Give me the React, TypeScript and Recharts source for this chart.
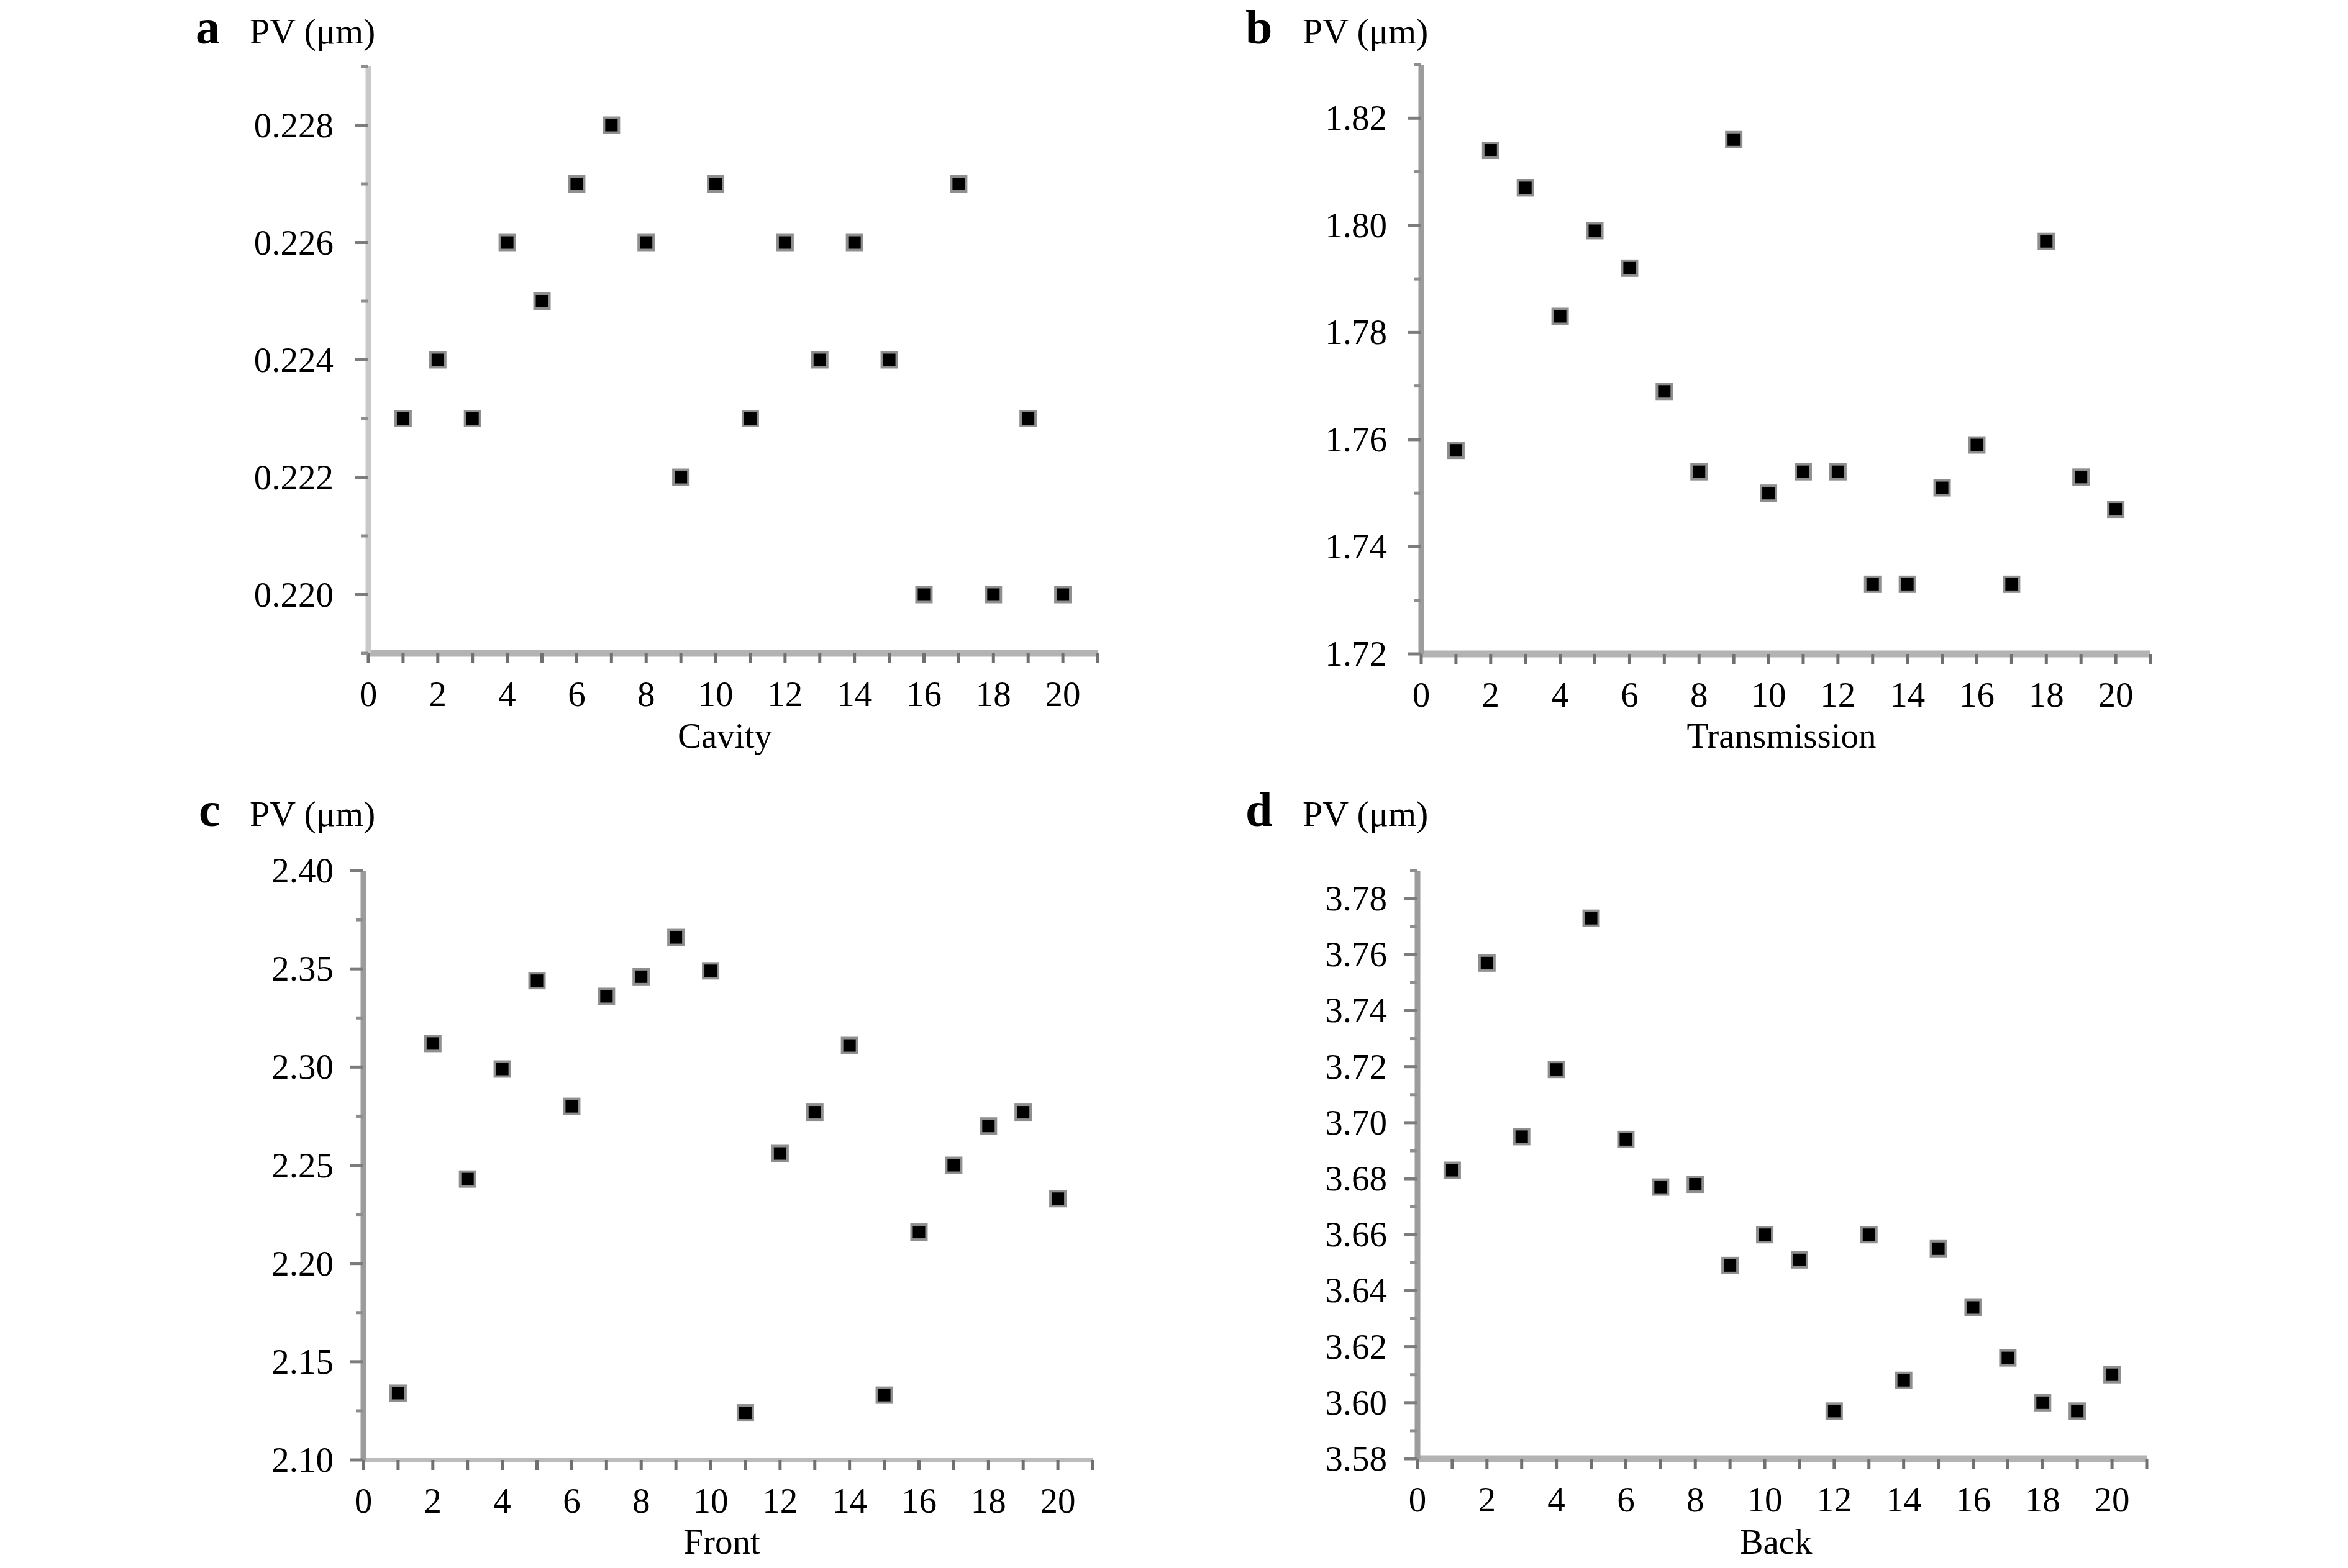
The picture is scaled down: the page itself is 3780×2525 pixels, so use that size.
import React from 'react';
import { ScatterChart, Scatter, XAxis, YAxis } from 'recharts';

// ---------- data ----------
const sampleIndex = [1, 2, 3, 4, 5, 6, 7, 8, 9, 10, 11, 12, 13, 14, 15, 16, 17, 18, 19, 20];

const cavityPV = [0.223, 0.224, 0.223, 0.226, 0.225, 0.227, 0.228, 0.226, 0.222, 0.227, 0.223, 0.226, 0.224, 0.226, 0.224, 0.220, 0.227, 0.220, 0.223, 0.220];
const transmissionPV = [1.758, 1.814, 1.807, 1.783, 1.799, 1.792, 1.769, 1.754, 1.816, 1.750, 1.754, 1.754, 1.733, 1.733, 1.751, 1.759, 1.733, 1.797, 1.753, 1.747];
const frontPV = [2.134, 2.312, 2.243, 2.299, 2.344, 2.280, 2.336, 2.346, 2.366, 2.349, 2.124, 2.256, 2.277, 2.311, 2.133, 2.216, 2.250, 2.270, 2.277, 2.233];
const backPV = [3.683, 3.757, 3.695, 3.719, 3.773, 3.694, 3.677, 3.678, 3.649, 3.660, 3.651, 3.597, 3.660, 3.608, 3.655, 3.634, 3.616, 3.600, 3.597, 3.610];

const xTicks = [0, 1, 2, 3, 4, 5, 6, 7, 8, 9, 10, 11, 12, 13, 14, 15, 16, 17, 18, 19, 20, 21];
const xLabelTicks = [0, 2, 4, 6, 8, 10, 12, 14, 16, 18, 20];
const xDomain = [0, 21];

const cavityDomain = [0.219, 0.229];
const cavityMajor = [0.220, 0.222, 0.224, 0.226, 0.228];
const cavityMinor = [0.219, 0.221, 0.223, 0.225, 0.227, 0.229];

const transmissionDomain = [1.72, 1.83];
const transmissionMajor = [1.72, 1.74, 1.76, 1.78, 1.80, 1.82];
const transmissionMinor = [1.73, 1.75, 1.77, 1.79, 1.81, 1.83];

const frontDomain = [2.10, 2.40];
const frontMajor = [2.10, 2.15, 2.20, 2.25, 2.30, 2.35, 2.40];
const frontMinor = [2.125, 2.175, 2.225, 2.275, 2.325, 2.375];

const backDomain = [3.58, 3.79];
const backMajor = [3.58, 3.60, 3.62, 3.64, 3.66, 3.68, 3.70, 3.72, 3.74, 3.76, 3.78];
const backMinor = [3.59, 3.61, 3.63, 3.65, 3.67, 3.69, 3.71, 3.73, 3.75, 3.77, 3.79];

const panelLetters = ['a', 'b', 'c', 'd'];
const axisTitles = ['Cavity', 'Transmission', 'Front', 'Back'];
const yUnitLabel = 'PV (\u03bcm)';

// ---------- styling / layout ----------
const FONT = "'Liberation Serif', 'Times New Roman', Times, serif";
const TICK_FS = 57;

const toPoints = (vals: number[]) => sampleIndex.map((x, i) => ({ x, y: vals[i] }));
const sortTicks = (a: number[], b: number[]) => [...a, ...b].sort((p, q) => p - q);

const panels = [
  {
    series: cavityPV, domain: cavityDomain, major: cavityMajor, minor: cavityMinor, decimals: 3,
    left: 0, top: 0, width: 1890, height: 1262, yAxisW: 593, mTop: 107, mRight: 123, xAxisH: 210,
    labelGap: 56, yLineColor: '#c9c9c9', yLineW: 9, xLineColor: '#b3b3b3', xLineW: 11,
    letterX: 315, unitX: 402, textBase: 70, titleX: 1167, titleBase: 1204,
  },
  {
    series: transmissionPV, domain: transmissionDomain, major: transmissionMajor, minor: transmissionMinor, decimals: 2,
    left: 1890, top: 0, width: 1890, height: 1262, yAxisW: 398, mTop: 104, mRight: 318, xAxisH: 209,
    labelGap: 55, yLineColor: '#9c9c9c', yLineW: 9, xLineColor: '#b3b3b3', xLineW: 11,
    letterX: 2005, unitX: 2097, textBase: 70, titleX: 2868, titleBase: 1204,
  },
  {
    series: frontPV, domain: frontDomain, major: frontMajor, minor: frontMinor, decimals: 2,
    left: 0, top: 1262, width: 1890, height: 1263, yAxisW: 585, mTop: 140, mRight: 131, xAxisH: 174,
    labelGap: 48, yLineColor: '#9c9c9c', yLineW: 9, xLineColor: '#bcbcbc', xLineW: 6,
    letterX: 320, unitX: 402, textBase: 1330, titleX: 1162, titleBase: 2502,
  },
  {
    series: backPV, domain: backDomain, major: backMajor, minor: backMinor, decimals: 2,
    left: 1890, top: 1262, width: 1890, height: 1263, yAxisW: 392, mTop: 140, mRight: 324, xAxisH: 176,
    labelGap: 49, yLineColor: '#9c9c9c', yLineW: 9, xLineColor: '#b3b3b3', xLineW: 11,
    letterX: 2005, unitX: 2097, textBase: 1330, titleX: 2859, titleBase: 2502,
  },
];

const isIn = (arr: number[], v: number) => arr.some((m) => Math.abs(m - v) < 1e-9);

const YTick = (props: any) => {
  const { x, y, payload, major, gap, decimals } = props;
  const v = payload.value;
  const isMajor = isIn(major, v);
  const len = isMajor ? 22 : 12;
  return (
    <g>
      <line x1={x - len} x2={x} y1={y} y2={y} stroke={isMajor ? '#7c7c7c' : '#8e8e8e'} strokeWidth={5} />
      {isMajor && (
        <text x={x - gap} y={y + 19} textAnchor="end" fontSize={TICK_FS} fontFamily={FONT} fill="#000">
          {v.toFixed(decimals)}
        </text>
      )}
    </g>
  );
};

const XTick = (props: any) => {
  const { x, y, payload } = props;
  const v = payload.value;
  const labelled = isIn(xLabelTicks, v);
  return (
    <g>
      <line x1={x} x2={x} y1={y} y2={y + 16} stroke="#707070" strokeWidth={5} />
      {labelled && (
        <text x={x} y={y + 85} textAnchor="middle" fontSize={TICK_FS} fontFamily={FONT} fill="#000">
          {String(v)}
        </text>
      )}
    </g>
  );
};

const SquareMarker = (props: any) => {
  const { cx, cy } = props;
  if (cx == null || cy == null) return null;
  return <rect x={cx - 12} y={cy - 12} width={24} height={24} fill="#000" stroke="#8f8f8f" strokeWidth={4} />;
};

export default function App() {
  return (
    <div style={{ position: 'absolute', left: 0, top: 0, width: 3780, height: 2525, background: '#fff', overflow: 'hidden' }}>
      {panels.map((p, i) => (
        <div key={i} style={{ position: 'absolute', left: p.left, top: p.top, width: p.width, height: p.height }}>
          <ScatterChart width={p.width} height={p.height} margin={{ top: p.mTop, right: p.mRight, left: 0, bottom: 0 }}>
            <XAxis
              type="number"
              dataKey="x"
              domain={xDomain}
              ticks={xTicks}
              interval={0}
              height={p.xAxisH}
              tickLine={false}
              tickSize={0}
              tickMargin={0}
              axisLine={{ stroke: p.xLineColor, strokeWidth: p.xLineW }}
              tick={(tp: any) => <XTick {...tp} />}
              allowDataOverflow
            />
            <YAxis
              type="number"
              dataKey="y"
              domain={p.domain}
              ticks={sortTicks(p.major, p.minor)}
              interval={0}
              width={p.yAxisW}
              tickLine={false}
              tickSize={0}
              tickMargin={0}
              axisLine={{ stroke: p.yLineColor, strokeWidth: p.yLineW }}
              tick={(tp: any) => <YTick {...tp} major={p.major} gap={p.labelGap} decimals={p.decimals} />}
              allowDataOverflow
            />
            <Scatter data={toPoints(p.series)} isAnimationActive={false} shape={(sp: any) => <SquareMarker {...sp} />} />
          </ScatterChart>
        </div>
      ))}
      <svg width={3780} height={2525} style={{ position: 'absolute', left: 0, top: 0, pointerEvents: 'none' }}>
        {panels.map((p, i) => (
          <g key={i} fontFamily={FONT} fill="#000">
            <text x={p.letterX} y={p.textBase} fontSize={78} fontWeight="bold">{panelLetters[i]}</text>
            <text x={p.unitX} y={p.textBase} fontSize={58}>{yUnitLabel}</text>
            <text x={p.titleX} y={p.titleBase} fontSize={TICK_FS} textAnchor="middle">{axisTitles[i]}</text>
          </g>
        ))}
      </svg>
    </div>
  );
}
